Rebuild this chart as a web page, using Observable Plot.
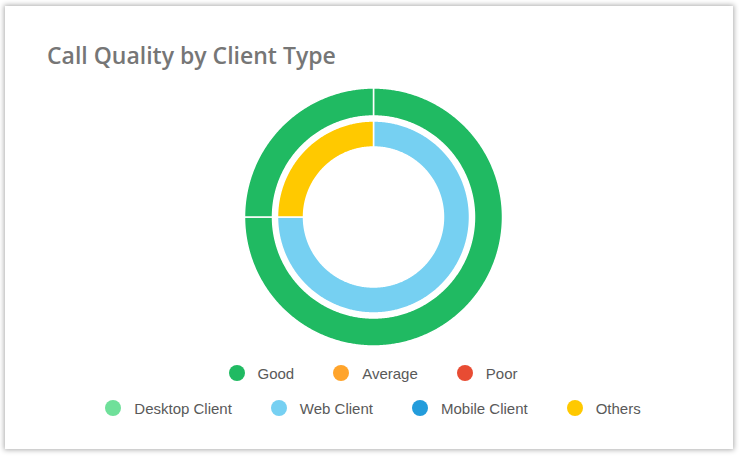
<!DOCTYPE html>
<html><head><meta charset="utf-8">
<script src="https://cdn.jsdelivr.net/npm/d3@7"></script>
<script src="https://cdn.jsdelivr.net/npm/@observablehq/plot@0.6"></script>
<style>
body{margin:0;background:#fff;width:739px;height:456px;overflow:hidden;font-family:"Liberation Sans",Arial,sans-serif;}
#card{position:absolute;left:5px;top:6px;width:728px;height:443px;background:#fff;box-shadow:0 0 5px 1px rgba(0,0,0,0.32);}
#title{position:absolute;left:42px;top:36px;font-family:"Open Sans",sans-serif;font-weight:600;font-size:23px;line-height:1.2;color:#767676;white-space:nowrap;}
#chart{position:absolute;left:0;top:76px;}
.legend{position:absolute;left:0;width:736px;display:flex;justify-content:center;align-items:center;height:20px;}
.item{display:flex;align-items:center;margin:0 19.5px;font-size:15px;color:#595959;white-space:nowrap;}
.dot{width:16px;height:16px;border-radius:50%;margin-right:13px;flex:none;}
</style></head>
<body>
<div id="card">
  <div id="title">Call Quality by Client Type</div>
  <div id="chart"></div>
  <div class="legend" id="leg1" style="top:357px"></div>
  <div class="legend" id="leg2" style="top:392px"></div>
</div>
<script>
// ---- data ----
const qualityLevels = ["Good", "Average", "Poor"];
const clientLevels = ["Desktop Client", "Web Client", "Mobile Client", "Others"];
const outerLabels = ["Good", "Good"];
const outerValues = [75, 25];
const innerLabels = ["Web Client", "Others"];
const innerValues = [75, 25];

// ---- styles ----
const palette = ["#20ba62", "#ffa42b", "#e84c33", "#6fe09a", "#76d0f2", "#239cdb", "#ffc900"];

const W = 728, H = 270, cx = 368, cy = 134.5;
function ring(labels, values, r0, r1) {
  const arcs = d3.pie().sort(null)(values);
  return arcs.map((a, i) => {
    const pts = [];
    const n = Math.max(2, Math.ceil((a.endAngle - a.startAngle) / (Math.PI / 360)));
    for (let k = 0; k <= n; k++) {
      const t = a.startAngle + (a.endAngle - a.startAngle) * k / n;
      pts.push([cx + r1 * Math.sin(t), cy - r1 * Math.cos(t)]);
    }
    for (let k = n; k >= 0; k--) {
      const t = a.startAngle + (a.endAngle - a.startAngle) * k / n;
      pts.push([cx + r0 * Math.sin(t), cy - r0 * Math.cos(t)]);
    }
    pts.push(pts[0]);
    return {type: "Feature", properties: {label: labels[i]}, geometry: {type: "Polygon", coordinates: [pts]}};
  });
}
const features = [...ring(outerLabels, outerValues, 101, 129), ...ring(innerLabels, innerValues, 70, 96)];
const colorDomain = [...qualityLevels, ...clientLevels];

const chart = Plot.plot({
  width: W, height: H, margin: 0,
  projection: d3.geoIdentity(),
  color: {domain: colorDomain, range: palette},
  marks: [
    Plot.geo(features, {fill: d => d.properties.label, stroke: "white", strokeWidth: 1.5})
  ]
});
document.getElementById("chart").appendChild(chart);

const colorScale = Plot.scale({color: {domain: colorDomain, range: palette}});
function legend(id, labels) {
  const el = document.getElementById(id);
  for (const l of labels) {
    const it = document.createElement("div"); it.className = "item";
    const dot = document.createElement("span"); dot.className = "dot"; dot.style.background = colorScale.apply(l);
    const tx = document.createElement("span"); tx.textContent = l;
    it.append(dot, tx); el.appendChild(it);
  }
}
legend("leg1", qualityLevels);
legend("leg2", clientLevels);
</script>
</body></html>
